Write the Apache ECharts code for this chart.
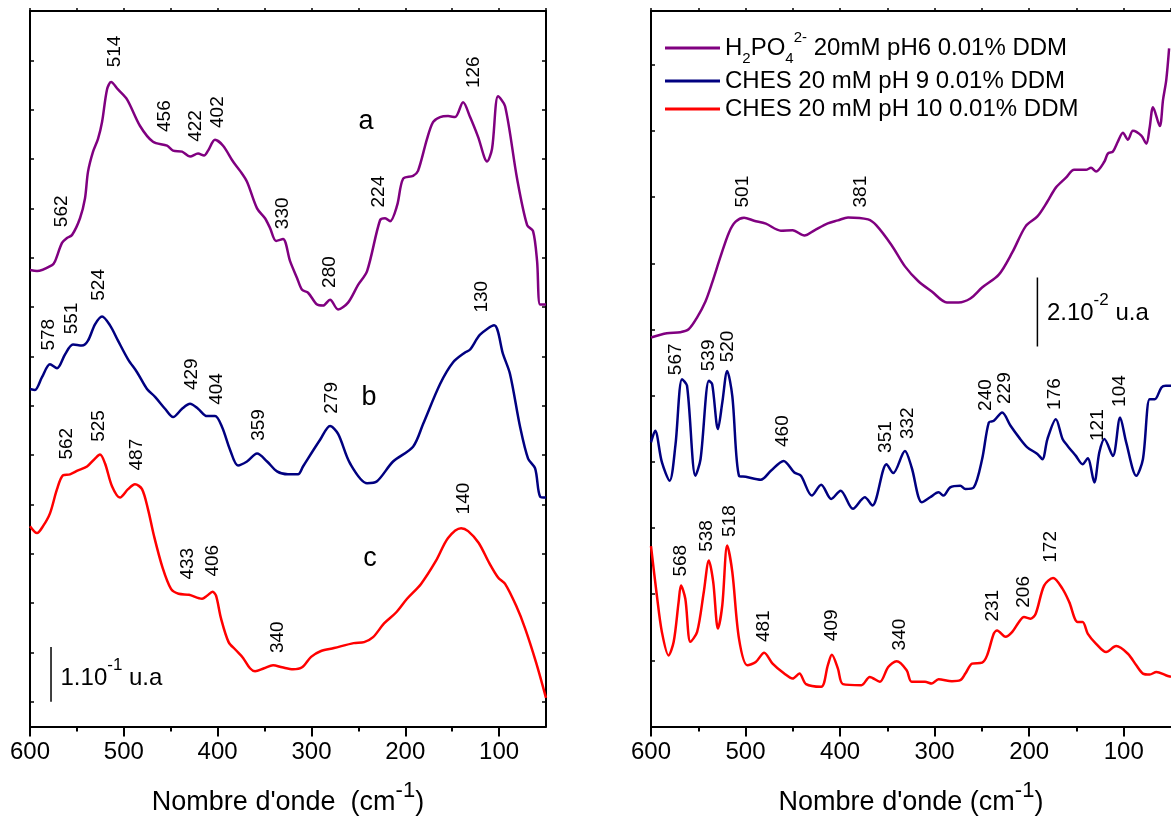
<!DOCTYPE html>
<html><head><meta charset="utf-8">
<script src="https://cdn.jsdelivr.net/npm/echarts@6/dist/echarts.min.js"></script>
<style>html,body{margin:0;padding:0;background:#fff}#c{width:1171px;height:821px}</style>
</head><body><div id="c"></div>
<script>
// ---------- DATA (wavenumber cm-1, intensity u.a.) ----------
// Left panel, curve a (purple)
const waveA = [600,592.5,576.5,573.3,565.9,560.6,555.2,546.7,541.4,538.2,532.8,527.5,523.2,517.9,513.6,506.2,496.6,482.7,468.9,453.9,447.5,437.9,429.4,420.9,414.5,410.2,402.8,394.2,383.6,376.1,368.7,358.0,349.5,344.1,337.7,330.3,322.8,315.4,310.0,303.6,294.0,287.6,280.2,271.6,261.0,250.3,240.7,226.9,221.5,216.2,208.7,202.3,191.7,186.4,176.8,170.4,162.9,154.4,146.9,138.4,130.9,122.4,112.8,107.5,101.1,93.6,80.8,70.1,63.8,59.5,56.3,50];
const intA = [0.875,0.873,0.885,0.893,0.930,0.940,0.946,0.980,1.020,1.074,1.115,1.141,1.175,1.241,1.256,1.241,1.221,1.167,1.135,1.127,1.117,1.115,1.105,1.111,1.107,1.117,1.139,1.127,1.095,1.076,1.054,1.000,0.980,0.960,0.934,0.938,0.893,0.859,0.835,0.829,0.805,0.803,0.815,0.795,0.809,0.845,0.873,0.976,0.980,0.974,1.006,1.060,1.066,1.076,1.141,1.175,1.185,1.187,1.185,1.215,1.185,1.145,1.095,1.121,1.227,1.207,1.060,0.966,0.954,0.893,0.805,0.805];
// Left panel, curve b (navy)
const waveB = [600,594.7,587.2,578.7,571.2,562.7,554.2,544.6,538.2,530.7,523.2,514.7,506.2,495.5,485.9,475.3,466.7,456.1,447.5,437.9,429.4,420.9,411.3,402.8,395.3,386.8,378.3,368.7,358.0,347.3,336.7,325.0,314.3,309.0,290.8,280.2,271.6,258.8,240.7,230.1,213.0,191.7,181.0,162.9,149.0,136.3,130.9,120.3,105.3,95.7,88.3,77.6,69.1,61.6,56.3,50];
const intB = [0.634,0.632,0.658,0.684,0.676,0.704,0.724,0.722,0.732,0.765,0.781,0.763,0.732,0.694,0.668,0.634,0.618,0.594,0.577,0.594,0.604,0.594,0.579,0.579,0.557,0.511,0.479,0.487,0.503,0.487,0.467,0.461,0.461,0.477,0.531,0.559,0.543,0.483,0.443,0.447,0.487,0.517,0.563,0.644,0.688,0.708,0.714,0.744,0.763,0.704,0.664,0.557,0.493,0.473,0.416,0.414];
// Left panel, curve c (red)
const waveC = [600,592.5,586.1,578.7,571.2,564.8,557.4,548.8,539.2,530.7,525.4,520.0,512.6,504.1,495.5,488.1,480.6,474.2,467.8,458.7,449.7,441.6,430.5,416.6,411.3,405.4,401.7,396.4,388.3,380.7,372.9,365.5,360.1,350.5,340.9,331.3,319.6,310.0,300.4,289.8,275.9,255.0,243.9,234.3,222.6,209.8,198.1,183.2,167.2,154.4,140.5,133.0,121.7,110.7,101.1,93.6,81.9,72.3,60.6,50];
const intC = [0.356,0.342,0.356,0.382,0.431,0.459,0.461,0.469,0.477,0.493,0.501,0.483,0.437,0.414,0.431,0.441,0.431,0.390,0.336,0.272,0.229,0.219,0.217,0.209,0.215,0.223,0.215,0.169,0.121,0.105,0.089,0.068,0.062,0.068,0.074,0.070,0.066,0.070,0.091,0.103,0.109,0.119,0.121,0.131,0.159,0.181,0.209,0.239,0.286,0.332,0.352,0.346,0.322,0.282,0.252,0.239,0.195,0.149,0.080,0.008];
// Right panel, H2PO4 (purple)
const waveP = [600,583.2,569.0,560.2,551.2,542.4,535.3,526.4,517.6,510.5,501.6,491.0,478.5,462.6,450.2,437.7,427.1,413.0,402.3,391.6,370.4,361.6,345.5,331.4,317.2,303.0,287.0,274.7,262.2,249.8,232.1,217.9,203.8,191.3,180.7,171.8,161.1,152.4,139.9,134.6,129.2,120.4,116.8,111.5,106.2,100.9,95.6,90.3,81.4,76.1,72.6,69.0,61.9,58.4,55.0,52];
const intP = [0.1176,0.1189,0.1192,0.1201,0.1237,0.1285,0.1342,0.1421,0.1493,0.1526,0.1538,0.1529,0.1520,0.1499,0.1500,0.1484,0.1500,0.1521,0.1530,0.1539,0.1533,0.1515,0.1455,0.1391,0.1346,0.1315,0.1282,0.1282,0.1294,0.1327,0.1366,0.1433,0.1512,0.1542,0.1587,0.1629,0.1659,0.1683,0.1683,0.1689,0.1678,0.1708,0.1732,0.1738,0.1768,0.1795,0.1774,0.1801,0.1786,0.1762,0.1810,0.1872,0.1815,0.1895,0.1955,0.2050];
// Right panel, CHES pH 9 (navy)
const waveN = [600,595.6,588.5,580.3,574.2,567.2,561.9,553.0,547.6,538.8,535.3,529.2,524.6,519.4,514.0,506.9,499.8,483.9,473.2,459.8,448.4,441.4,429.9,420.0,409.4,399.5,386.4,373.9,365.8,350.9,343.8,331.4,324.3,313.6,304.8,295.9,290.6,283.6,272.9,267.5,258.6,249.8,242.7,237.4,228.6,219.7,210.8,202.0,191.3,186.0,180.7,171.8,164.7,159.5,150.6,143.5,138.1,131.1,125.8,120.4,111.5,103.8,97.4,86.7,79.7,72.6,67.2,60.1,55.5,50];
const intN = [0.0859,0.0894,0.0799,0.0743,0.0849,0.1050,0.1030,0.0758,0.0808,0.1045,0.1035,0.0899,0.0979,0.1075,0.0999,0.0758,0.0755,0.0746,0.0773,0.0803,0.0768,0.0758,0.0698,0.0731,0.0688,0.0713,0.0658,0.0693,0.0668,0.0793,0.0766,0.0833,0.0783,0.0678,0.0693,0.0708,0.0698,0.0723,0.0728,0.0718,0.0723,0.0808,0.0919,0.0924,0.0949,0.0909,0.0874,0.0844,0.0824,0.0808,0.0869,0.0929,0.0869,0.0849,0.0818,0.0793,0.0811,0.0738,0.0829,0.0869,0.0818,0.0934,0.0859,0.0758,0.0808,0.0989,0.0989,0.1025,0.1030,0.1030];
// Right panel, CHES pH 10 (red)
const waveR = [600,593.8,588.5,581.4,576.0,570.8,568.3,563.7,558.3,551.2,544.2,538.8,534.2,529.2,524.6,519.4,514.0,506.9,498.0,489.2,480.3,471.4,459.1,450.2,443.0,436.0,420.0,413.0,408.7,402.3,397.0,377.5,368.6,358.0,349.1,340.2,329.6,324.3,310.2,303.0,295.9,281.7,272.9,267.5,260.4,249.8,244.5,237.4,233.9,225.0,217.9,210.8,205.5,198.4,193.1,184.2,174.7,164.7,157.6,148.8,143.5,138.1,129.2,118.6,108.0,95.6,86.7,79.7,72.6,65.4,55.5,50];
const intR = [0.0545,0.0396,0.0286,0.0215,0.0256,0.0376,0.0426,0.0386,0.0256,0.0286,0.0406,0.0502,0.0437,0.0296,0.0366,0.0547,0.0467,0.0265,0.0185,0.0195,0.0223,0.0190,0.0160,0.0145,0.0160,0.0128,0.0120,0.0185,0.0217,0.0175,0.0128,0.0125,0.0150,0.0135,0.0180,0.0197,0.0170,0.0135,0.0135,0.0130,0.0143,0.0137,0.0140,0.0160,0.0190,0.0193,0.0215,0.0281,0.0290,0.0271,0.0286,0.0316,0.0331,0.0326,0.0341,0.0426,0.0449,0.0416,0.0376,0.0316,0.0316,0.0281,0.0250,0.0225,0.0243,0.0220,0.0185,0.0160,0.0157,0.0165,0.0155,0.0150];

// Peak annotations
const leftLabelText = ['514','562','456','422','402','330','280','224','126','578','551','524','429','404','359','279','130','562','525','487','433','406','340','140'];
const leftLabelWave = [509.9,565.9,456.1,423.0,399.6,330.3,280.2,227.9,126.7,579.7,555.2,526.4,427.3,400.6,355.9,278.0,118.1,560.6,526.4,485.9,431.6,404.9,335.6,137.3];
const leftLabelInt  = [1.318,0.994,1.187,1.167,1.195,0.990,0.871,1.034,1.276,0.744,0.777,0.845,0.664,0.634,0.561,0.616,0.821,0.523,0.559,0.501,0.280,0.286,0.131,0.412];
const curveLetters = ['a','b','c'];
const letterWave = [241.8,238.6,237.5];
const letterInt = [1.175,0.616,0.290];
const rightLabelText = ['501','381','567','539','520','460','351','332','240','229','176','121','104','568','538','518','481','409','340','231','206','172'];
const rightLabelWave = [502.6,378.5,573.8,538.8,518.3,460.7,351.8,328.8,245.5,226.2,172.8,127.7,103.7,568.1,541.4,516.8,481.2,408.4,337.2,238.2,205.2,177.5];
const rightLabelInt  = [0.1617,0.1617,0.1110,0.1122,0.1149,0.0893,0.0875,0.0917,0.1002,0.1023,0.1005,0.0911,0.1014,0.0501,0.0576,0.0621,0.0303,0.0306,0.0278,0.0365,0.0407,0.0543];

// Scale bars (wavenumber, low, high)
const leftBarWave = 577.6, leftBarLow = 0.0, leftBarHigh = 0.111;
const rightBarWave = 191.3, rightBarLow = 0.1149, rightBarHigh = 0.1357;

// Ticks
const xMajorTicks = [100,200,300,400,500,600];
const xMinorTicks = [150,250,350,450,550];
const xTopTicks = [50,100,150,200,250,300,350,400,450,500,550,600];
const leftYTicks = [0,0.1,0.2,0.3,0.4,0.5,0.6,0.7,0.8,0.9,1.0,1.1,1.2,1.3];
const rightYTicks = [0,0.02,0.04,0.06,0.08,0.1,0.12,0.14,0.16,0.18,0.2];

const nameP = 'H2PO4 2- 20mM pH6 0.01% DDM';
const nameN = 'CHES 20 mM pH 9 0.01% DDM';
const nameR = 'CHES 20 mM pH 10 0.01% DDM';

// ---------- CHART ----------
const FONT = '"Liberation Sans", Arial, Helvetica, sans-serif';
const BLACK = '#000';
const pairs = (xs, ys) => xs.map((x, i) => [x, ys[i]]);
const hidden = { color: 'rgba(0,0,0,0)', opacity: 1 };

function curve(name, xs, ys, color, xi, yi) {
  return { type: 'line', name, data: pairs(xs, ys), xAxisIndex: xi, yAxisIndex: yi,
    smooth: 0.3, symbol: 'none', showSymbol: false, color,
    lineStyle: { color, width: 2.5 }, itemStyle: { color }, z: 3 };
}
function peakLabels(texts, xs, ys, xi, yi) {
  return { type: 'scatter', xAxisIndex: xi, yAxisIndex: yi, symbolSize: 1, silent: true,
    itemStyle: hidden, z: 5,
    data: texts.map((t, i) => ({ name: t, value: [xs[i], ys[i]] })),
    label: { show: true, formatter: '{b}', rotate: 90, position: 'inside', opacity: 1,
      fontSize: 19, fontFamily: FONT, color: BLACK, textBorderWidth: 0 } };
}
function scaleBar(x, lo, hi, xi, yi) {
  return { type: 'line', xAxisIndex: xi, yAxisIndex: yi, data: [[x, lo], [x, hi]],
    symbol: 'none', silent: true, lineStyle: { color: BLACK, width: 1.5 }, z: 4 };
}
function scaleText(x, y, txt, sup, xi, yi) {
  return { type: 'scatter', xAxisIndex: xi, yAxisIndex: yi, symbolSize: 1, silent: true,
    itemStyle: hidden, z: 5, data: [[x, y]],
    label: { show: true, position: 'right', distance: 9, opacity: 1,
      formatter: '{n|' + txt + '}{s|' + sup + '}{n| u.a}',
      rich: { n: { fontSize: 24, fontFamily: FONT, color: BLACK, lineHeight: 42 },
              s: { fontSize: 17, fontFamily: FONT, color: BLACK, verticalAlign: 'top', lineHeight: 17 } } } };
}

const nameRich = { t: { fontSize: 27, fontFamily: FONT, color: BLACK, lineHeight: 46 },
                   s: { fontSize: 22, fontFamily: FONT, color: BLACK, verticalAlign: 'top', lineHeight: 22 } };
function xMain(g, title) {
  return { type: 'value', gridIndex: g, position: 'bottom', inverse: true, min: 50, max: 600,
    axisLine: { show: true, onZero: false, lineStyle: { color: BLACK, width: 2 } },
    axisTick: { show: true, customValues: xMajorTicks, length: 10, inside: false, lineStyle: { color: BLACK, width: 2 } },
    axisLabel: { show: true, customValues: xMajorTicks, fontSize: 24, fontFamily: FONT, color: BLACK, margin: 14 },
    splitLine: { show: false },
    name: title, nameLocation: 'middle', nameGap: 53, nameTextStyle: { rich: nameRich } };
}
function xMinor(g) {
  return { type: 'value', gridIndex: g, position: 'bottom', inverse: true, min: 50, max: 600,
    axisLine: { show: false, onZero: false },
    axisTick: { show: true, customValues: xMinorTicks, length: 5, inside: false, lineStyle: { color: BLACK, width: 2 } },
    axisLabel: { show: false }, splitLine: { show: false } };
}
function xTop(g) {
  return { type: 'value', gridIndex: g, position: 'top', inverse: true, min: 50, max: 600,
    axisLine: { show: true, onZero: false, lineStyle: { color: BLACK, width: 2 } },
    axisTick: { show: true, customValues: xTopTicks, length: 3, inside: false, lineStyle: { color: BLACK, width: 1.5 } },
    axisLabel: { show: false }, splitLine: { show: false } };
}
function yAx(g, pos, min, max, ticks) {
  return { type: 'value', gridIndex: g, position: pos, min, max,
    axisLine: { show: true, onZero: false, lineStyle: { color: BLACK, width: 2 } },
    axisTick: { show: true, customValues: ticks, length: 4, inside: true, lineStyle: { color: BLACK, width: 1.5 } },
    axisLabel: { show: false }, splitLine: { show: false } };
}

const chart = echarts.init(document.getElementById('c'), null, { renderer: 'canvas' });
chart.setOption({
  animation: false,
  backgroundColor: '#fff',
  grid: [
    { left: 30, top: 11, width: 516, height: 721 },
    { left: 651, top: 11, width: 525, height: 717 }
  ],
  xAxis: [
    xMain(0, "{t|Nombre d'onde  (cm}{s|-1}{t|)}"), xMinor(0), xTop(0),
    xMain(1, "{t|Nombre d'onde (cm}{s|-1}{t|)}"), xMinor(1), xTop(1)
  ],
  yAxis: [
    yAx(0, 'left', -0.05, 1.4, leftYTicks),
    yAx(0, 'right', -0.05, 1.4, leftYTicks),
    yAx(1, 'left', 0, 0.2163, rightYTicks)
  ],
  legend: {
    data: [nameP, nameN, nameR], left: 660, top: 25, orient: 'vertical', icon: 'rect',
    itemWidth: 55, itemHeight: 3, itemGap: 2, selectedMode: false,
    formatter: n => n === nameP ? '{n|H}{sub|2}{n|PO}{sub|4}{sup|2-}{n| 20mM pH6 0.01% DDM}' : n,
    textStyle: { fontFamily: FONT, fontSize: 24, color: BLACK, lineHeight: 26,
      rich: { n: { fontFamily: FONT, fontSize: 24, color: BLACK, lineHeight: 36 },
              sub: { fontFamily: FONT, fontSize: 15, color: BLACK, verticalAlign: 'bottom', lineHeight: 15 },
              sup: { fontFamily: FONT, fontSize: 15, color: BLACK, verticalAlign: 'top', lineHeight: 15 } } }
  },
  series: [
    curve('a', waveA, intA, '#800080', 0, 0),
    curve('b', waveB, intB, '#000080', 0, 0),
    curve('c', waveC, intC, '#ff0000', 0, 0),
    curve(nameP, waveP, intP, '#800080', 3, 2),
    curve(nameN, waveN, intN, '#000080', 3, 2),
    curve(nameR, waveR, intR, '#ff0000', 3, 2),
    peakLabels(leftLabelText, leftLabelWave, leftLabelInt, 0, 0),
    peakLabels(rightLabelText, rightLabelWave, rightLabelInt, 3, 2),
    { type: 'scatter', xAxisIndex: 0, yAxisIndex: 0, symbolSize: 1, silent: true,
      itemStyle: hidden, z: 5,
      data: curveLetters.map((t, i) => ({ name: t, value: [letterWave[i], letterInt[i]] })),
      label: { show: true, formatter: '{b}', position: 'inside', opacity: 1, fontSize: 27, fontFamily: FONT, color: BLACK, textBorderWidth: 0 } },
    scaleBar(leftBarWave, leftBarLow, leftBarHigh, 0, 0),
    scaleBar(rightBarWave, rightBarLow, rightBarHigh, 3, 2),
    scaleText(leftBarWave, 0.048, '1.10', '-1', 0, 0),
    scaleText(rightBarWave, 0.125, '2.10', '-2', 3, 2)
  ]
});
</script></body></html>
